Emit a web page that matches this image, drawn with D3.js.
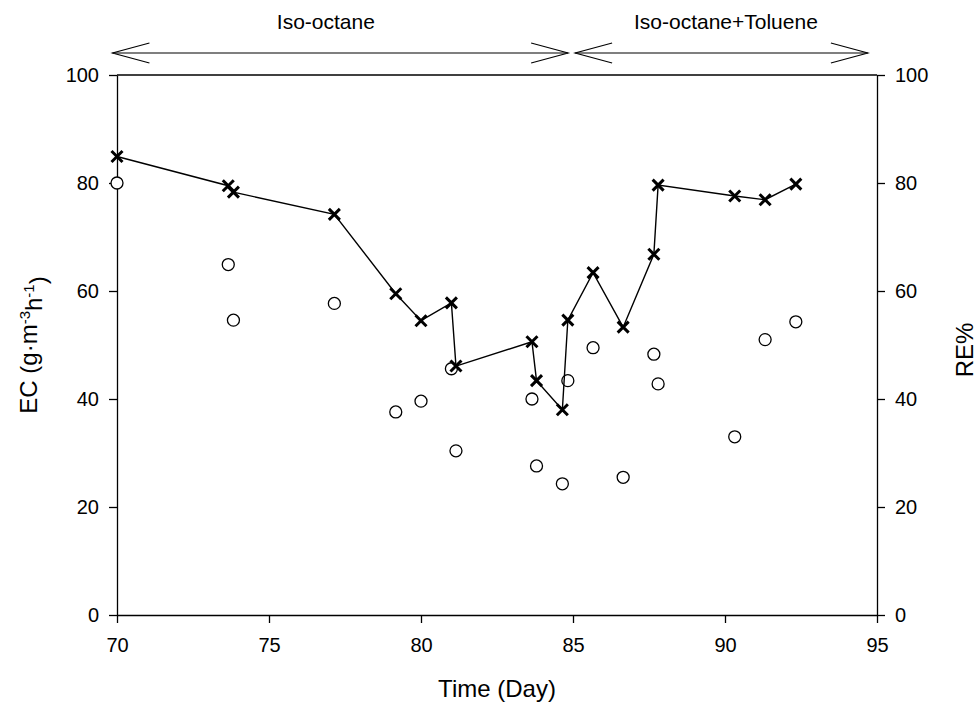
<!DOCTYPE html>
<html>
<head>
<meta charset="utf-8">
<script src="https://cdn.jsdelivr.net/npm/d3@7"></script>
<style>
  html, body { margin: 0; padding: 0; background: #fff; }
  svg { display: block; font-family: "Liberation Sans", Arial, sans-serif; }
</style>
</head>
<body>
<svg id="chart" width="980" height="704"></svg>
<script>
// Sampling days
const days = [70, 73.66, 73.83, 77.15, 79.17, 80.0, 81.0, 81.15, 83.65, 83.8, 84.65, 84.83, 85.66, 86.65, 87.66, 87.8, 90.32, 91.32, 92.33];
// Removal efficiency (%) — crosses joined by a line, right axis
const reValues = [84.9, 79.5, 78.3, 74.2, 59.5, 54.5, 57.8, 46.1, 50.6, 43.4, 38.0, 54.6, 63.4, 53.3, 66.8, 79.6, 77.6, 76.9, 79.8];
// Elimination capacity (g·m-3·h-1) — open circles, left axis
const ecValues = [80.0, 64.9, 54.6, 57.7, 37.6, 39.6, 45.6, 30.4, 40.0, 27.6, 24.3, 43.4, 49.5, 25.5, 48.3, 42.8, 33.0, 51.0, 54.3];

const xTicks = [70, 75, 80, 85, 90, 95];
const yTicks = [0, 20, 40, 60, 80, 100];

// Feed phases shown as double-headed arrows above the plot
const phaseLabels = ["Iso-octane", "Iso-octane+Toluene"];
const phaseStart = [69.85, 85.07];
const phaseEnd = [84.84, 94.7];
const phaseLabelDay = [76.87, 90.03];

const svg = d3.select("#chart");
const W = 980, H = 704;
const margin = { top: 75, right: 103, bottom: 89, left: 117 };
const x = d3.scaleLinear().domain([70, 95]).range([margin.left, W - margin.right]);
const yL = d3.scaleLinear().domain([0, 100]).range([H - margin.bottom, margin.top]);
const yR = d3.scaleLinear().domain([0, 100]).range([H - margin.bottom, margin.top]);

const tickFont = "20px";

function styleAxis(g) {
  g.selectAll("path.domain").attr("stroke", "#000").attr("stroke-width", 1.3);
  g.selectAll(".tick line").attr("stroke", "#000").attr("stroke-width", 1.3);
  g.selectAll(".tick text").attr("fill", "#000").style("font-size", tickFont)
    .style("font-family", "'Liberation Sans', Arial, sans-serif");
}

// Bottom axis
svg.append("g")
  .attr("transform", `translate(0,${H - margin.bottom})`)
  .call(d3.axisBottom(x).tickValues(xTicks).tickSize(8).tickSizeOuter(0).tickPadding(15).tickFormat(d3.format("d")))
  .call(styleAxis);

// Left axis
svg.append("g")
  .attr("transform", `translate(${margin.left},0)`)
  .call(d3.axisLeft(yL).tickValues(yTicks).tickSize(8).tickSizeOuter(0).tickPadding(10).tickFormat(d3.format("d")))
  .call(styleAxis);

// Right axis
svg.append("g")
  .attr("transform", `translate(${W - margin.right},0)`)
  .call(d3.axisRight(yR).tickValues(yTicks).tickSize(8).tickSizeOuter(0).tickPadding(10).tickFormat(d3.format("d")))
  .call(styleAxis);

// Top frame line
svg.append("line")
  .attr("x1", x(70)).attr("x2", x(95))
  .attr("y1", yL(100)).attr("y2", yL(100))
  .attr("stroke", "#000").attr("stroke-width", 1.3);

// Axis titles
svg.append("text")
  .attr("x", (x(70) + x(95)) / 2).attr("y", 697)
  .attr("text-anchor", "middle").style("font-size", "24px")
  .text("Time (Day)");

const ecTitle = svg.append("text")
  .attr("transform", `translate(37,${(yL(0) + yL(100)) / 2}) rotate(-90)`)
  .attr("text-anchor", "middle").style("font-size", "24px");
ecTitle.append("tspan").text("EC (g·m");
ecTitle.append("tspan").attr("dy", "-0.5em").style("font-size", "15px").text("-3");
ecTitle.append("tspan").attr("dy", "0.5em").text("h");
ecTitle.append("tspan").attr("dy", "-0.5em").style("font-size", "15px").text("-1");
ecTitle.append("tspan").attr("dy", "0.5em").text(")");

svg.append("text")
  .attr("transform", `translate(973,${(yR(0) + yR(100)) / 2 + 5}) rotate(-90)`)
  .attr("text-anchor", "middle").style("font-size", "24px")
  .text("RE%");

// Phase arrows with open arrowheads
const arrowY = 53, headLen = 37, headHalf = 10;
const phases = svg.append("g").attr("stroke", "#000").attr("stroke-width", 1.1).attr("fill", "none");
phaseLabels.forEach((lab, i) => {
  const a = x(phaseStart[i]), b = x(phaseEnd[i]);
  phases.append("line").attr("x1", a).attr("x2", b).attr("y1", arrowY).attr("y2", arrowY);
  phases.append("path").attr("d", `M${a + headLen},${arrowY - headHalf}L${a},${arrowY}L${a + headLen},${arrowY + headHalf}`);
  phases.append("path").attr("d", `M${b - headLen},${arrowY - headHalf}L${b},${arrowY}L${b - headLen},${arrowY + headHalf}`);
  svg.append("text")
    .attr("x", x(phaseLabelDay[i])).attr("y", 29)
    .attr("text-anchor", "middle").style("font-size", "21px")
    .text(lab);
});

// EC: open circles
svg.append("g").selectAll("circle")
  .data(days.map((d, i) => ({ d, v: ecValues[i] })))
  .join("circle")
  .attr("cx", p => x(p.d)).attr("cy", p => yL(p.v))
  .attr("r", 6)
  .attr("fill", "#fff").attr("stroke", "#000").attr("stroke-width", 1.3);

// RE: connecting line
const reData = days.map((d, i) => ({ d, v: reValues[i] }));
svg.append("path")
  .datum(reData)
  .attr("fill", "none").attr("stroke", "#000").attr("stroke-width", 1.4)
  .attr("d", d3.line().x(p => x(p.d)).y(p => yR(p.v)));

// RE: cross markers
const cs = 5.5;
svg.append("g").selectAll("path")
  .data(reData)
  .join("path")
  .attr("transform", p => `translate(${x(p.d)},${yR(p.v)})`)
  .attr("d", `M${-cs},${-cs}L${cs},${cs}M${-cs},${cs}L${cs},${-cs}`)
  .attr("stroke", "#000").attr("stroke-width", 3).attr("fill", "none");
</script>
</body>
</html>
